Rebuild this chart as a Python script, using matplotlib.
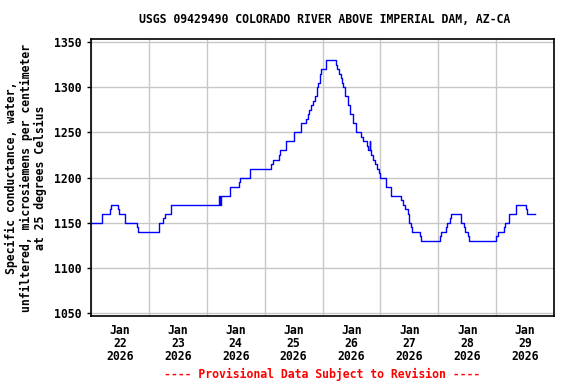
import matplotlib
matplotlib.use("Agg")
import matplotlib.dates as mdates
import matplotlib.pyplot as plt
import pandas as pd

START = pd.Timestamp("2026-01-22 00:00")
END = pd.Timestamp("2026-01-30 00:00")

# Hours after START at which the reading changes, and the new reading
# (uS/cm at 25 C). The last entry is the end of the record.
change_hours = [
    0, 4.5, 8.0, 8.25, 11.25, 11.5, 14.25, 19.0, 19.5, 28.25,
    30.0, 30.5, 33.0, 53.0, 53.25, 53.5, 53.75, 57.5, 61.5, 61.75,
    66.0, 74.75, 75.25, 77.75, 78.25, 81.0, 84.0, 87.0, 89.25, 90.0,
    90.5, 91.25, 92.0, 92.75, 93.5, 93.75, 94.25, 94.75, 95.0, 95.25,
    97.25, 101.75, 102.0, 103.0, 103.5, 104.0, 104.5, 105.5, 106.5, 107.5,
    108.75, 110.0, 111.75, 112.75, 114.5, 114.75, 115.5, 115.75, 116.25, 116.75,
    117.75, 118.75, 119.25, 120.0, 122.25, 124.5, 128.5, 129.25, 130.0, 131.25,
    131.75, 132.0, 132.75, 133.0, 136.25, 137.0, 144.5, 145.0, 147.25, 147.75,
    148.75, 149.25, 153.25, 154.5, 155.0, 156.25, 156.75, 168.0, 168.75, 171.25,
    171.5, 173.25, 176.0, 180.25, 180.75, 184.0,
]
conductance = [
    1150, 1160, 1165, 1170, 1165, 1160, 1150, 1145, 1140, 1150,
    1155, 1160, 1170, 1175, 1180, 1170, 1180, 1190, 1195, 1200,
    1210, 1215, 1220, 1225, 1230, 1240, 1250, 1260, 1265, 1270,
    1275, 1280, 1285, 1290, 1295, 1300, 1305, 1310, 1315, 1320,
    1330, 1325, 1320, 1315, 1310, 1305, 1300, 1290, 1280, 1270,
    1260, 1250, 1245, 1240, 1235, 1230, 1240, 1230, 1225, 1220,
    1215, 1210, 1205, 1200, 1190, 1180, 1175, 1170, 1165, 1160,
    1155, 1150, 1145, 1140, 1135, 1130, 1135, 1140, 1145, 1150,
    1155, 1160, 1150, 1145, 1140, 1135, 1130, 1135, 1140, 1145,
    1150, 1160, 1170, 1165, 1160, 1160,
]
y_ticks = [1050, 1100, 1150, 1200, 1250, 1300, 1350]

FONT = dict(family="DejaVu Sans Mono", weight="bold", size=8.3)

times = START + pd.to_timedelta(change_hours, unit="h")

fig = plt.figure(figsize=(5.76, 3.84), dpi=100)
ax = fig.add_axes([0.158, 0.177, 0.804, 0.721])

ax.step(times, conductance, where="post", color="#0000ff", linewidth=1)

ax.set_xlim(START, END)
ax.set_ylim(1047, 1353)
ax.set_yticks(y_ticks)

ax.xaxis.set_major_locator(mdates.DayLocator())
ax.xaxis.set_major_formatter(plt.NullFormatter())
ax.xaxis.set_minor_locator(mdates.HourLocator(byhour=12))
ax.xaxis.set_minor_formatter(mdates.DateFormatter("%b\n%d\n%Y"))
ax.tick_params(axis="x", which="major", length=0)
ax.tick_params(axis="x", which="minor", length=0, pad=6)
ax.tick_params(axis="y", length=3, width=1, pad=4)

for lbl in ax.get_yticklabels():
    lbl.set(**FONT)
for lbl in ax.get_xticklabels(minor=True):
    lbl.set(linespacing=1.0, **FONT)

ax.grid(True, which="major", color="#c8c8c8", linewidth=1)
ax.set_axisbelow(True)
for spine in ax.spines.values():
    spine.set_linewidth(1.2)

ax.set_ylabel(
    "Specific conductance, water,\nunfiltered, microsiemens per centimeter\nat 25 degrees Celsius",
    labelpad=5, linespacing=1.12, **FONT,
)
fig.text(0.564, 0.95, "USGS 09429490 COLORADO RIVER ABOVE IMPERIAL DAM, AZ-CA",
         ha="center", va="center", **FONT)
fig.text(0.56, 0.025, "---- Provisional Data Subject to Revision ----",
         ha="center", va="center", color="#ff0000", **FONT)

fig.savefig("out.png", dpi=100)
